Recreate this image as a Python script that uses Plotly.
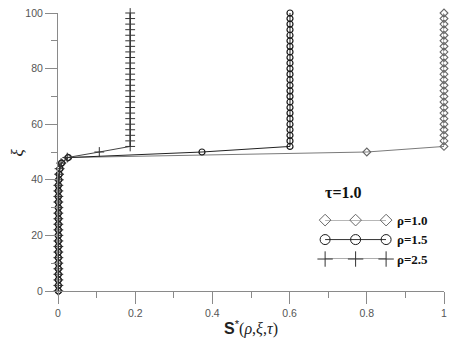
import plotly.graph_objects as go

# ---- data ----
xi = [0, 2, 4, 6, 8, 10, 12, 14, 16, 18, 20, 22, 24, 26, 28, 30, 32, 34, 36, 38,
      40, 42, 44, 46, 48, 50, 52, 54, 56, 58, 60, 62, 64, 66, 68, 70, 72, 74, 76,
      78, 80, 82, 84, 86, 88, 90, 92, 94, 96, 98, 100]

s_rho10 = [0.001, 0.001, 0.001, 0.001, 0.001, 0.001, 0.001, 0.001, 0.001, 0.001,
           0.001, 0.001, 0.001, 0.001, 0.001, 0.001, 0.001, 0.001, 0.001, 0.001,
           0.002, 0.003, 0.005, 0.010, 0.025, 0.800,
           1.0, 1.0, 1.0, 1.0, 1.0, 1.0, 1.0, 1.0, 1.0, 1.0, 1.0, 1.0, 1.0,
           1.0, 1.0, 1.0, 1.0, 1.0, 1.0, 1.0, 1.0, 1.0, 1.0, 1.0, 1.0]

s_rho15 = [0.001, 0.001, 0.001, 0.001, 0.001, 0.001, 0.001, 0.001, 0.001, 0.001,
           0.001, 0.001, 0.001, 0.001, 0.001, 0.001, 0.001, 0.001, 0.001, 0.001,
           0.002, 0.003, 0.005, 0.009, 0.027, 0.373,
           0.601, 0.601, 0.601, 0.601, 0.601, 0.601, 0.601, 0.601, 0.601, 0.601,
           0.601, 0.601, 0.601, 0.601, 0.601, 0.601, 0.601, 0.601, 0.601, 0.601,
           0.601, 0.601, 0.601, 0.601, 0.601]

s_rho25 = [0.001, 0.001, 0.001, 0.001, 0.001, 0.001, 0.001, 0.001, 0.001, 0.001,
           0.001, 0.001, 0.001, 0.001, 0.001, 0.001, 0.001, 0.001, 0.001, 0.001,
           0.002, 0.003, 0.004, 0.008, 0.024, 0.107,
           0.187, 0.187, 0.187, 0.187, 0.187, 0.187, 0.187, 0.187, 0.187, 0.187,
           0.187, 0.187, 0.187, 0.187, 0.187, 0.187, 0.187, 0.187, 0.187, 0.187,
           0.187, 0.187, 0.187, 0.187, 0.187]

legend_labels = ["ρ=1.0", "ρ=1.5", "ρ=2.5"]
tau_label = "τ=1.0"
x_ticks = [0, 0.2, 0.4, 0.6, 0.8, 1]
x_ticklabels = ["0", "0.2", "0.4", "0.6", "0.8", "1"]
y_ticks = [0, 20, 40, 60, 80, 100]

# ---- styles ----
styles = [
    dict(line=dict(color="#7a7a7a", width=1),
         marker=dict(symbol="diamond-open", size=6, color="#666666",
                     line=dict(width=1.1, color="#666666"))),
    dict(line=dict(color="#222222", width=1),
         marker=dict(symbol="circle-open", size=6, color="#1a1a1a",
                     line=dict(width=1.2, color="#1a1a1a"))),
    dict(line=dict(color="#444444", width=1),
         marker=dict(symbol="cross-thin-open", size=7, color="#333333",
                     line=dict(width=1, color="#333333"))),
]
legend_marker_sizes = [9, 10, 11]
legend_line_colors = ["#8a8a8a", "#333333", "#555555"]

fig = go.Figure()
for s, st in zip([s_rho10, s_rho15, s_rho25], styles):
    fig.add_trace(go.Scatter(x=s, y=xi, mode="lines+markers",
                             line=st["line"], marker=st["marker"],
                             showlegend=False, cliponaxis=False))

# legend samples drawn on an overlay axis
legend_x = [0, 1, 2]
for i, st in enumerate(styles):
    m = dict(st["marker"])
    m["size"] = legend_marker_sizes[i]
    m["line"] = dict(width=1, color=legend_line_colors[i] if i != 1 else "#1a1a1a")
    fig.add_trace(go.Scatter(x=legend_x, y=[2 - i] * 3, mode="lines+markers",
                             line=dict(color=legend_line_colors[i], width=1),
                             marker=m, showlegend=False,
                             xaxis="x2", yaxis="y2", cliponaxis=False))
    fig.add_annotation(x=2, y=2 - i, xref="x2", yref="y2",
                       text="<b>" + legend_labels[i] + "</b>",
                       showarrow=False, xanchor="left", xshift=9,
                       font=dict(family="Liberation Serif", size=13, color="#111"))

fig.add_annotation(x=0.793, y=0.356, xref="paper", yref="paper",
                   text="<b>" + tau_label + "</b>", showarrow=False,
                   font=dict(family="Liberation Serif", size=16, color="#111"))

# y-axis title
fig.add_annotation(x=-0.135, y=0.5, xref="paper", yref="paper",
                   text="<i>ξ</i>", showarrow=False, textangle=-90,
                   font=dict(family="Liberation Serif", size=17, color="#222"))

axis_common = dict(showline=True, linecolor="#8a8a8a", linewidth=1,
                   showgrid=False, zeroline=False, ticks="outside",
                   tickcolor="#8a8a8a", tickwidth=1, ticklen=12,
                   automargin=False,
                   tickfont=dict(family="Liberation Sans", size=10.5, color="#555"))

x_title = ("<b>S</b><sup>*</sup><span style=\"font-family:'Liberation Serif'\">"
           "(<i>ρ</i>,<i>ξ</i>,<i>τ</i>)</span>")

fig.update_layout(
    width=449, height=348,
    margin=dict(l=58, r=5, t=13, b=57),
    paper_bgcolor="white", plot_bgcolor="white",
    xaxis=dict(range=[0, 1], tickvals=x_ticks, ticktext=x_ticklabels,
               minor=dict(dtick=0.1, ticklen=6, tickcolor="#8a8a8a", ticks="outside"),
               title=dict(text=x_title,
                          font=dict(family="Liberation Sans", size=16, color="#222"),
                          standoff=5),
               **axis_common),
    yaxis=dict(range=[0, 100], tickvals=y_ticks,
               minor=dict(dtick=10, ticklen=6, tickcolor="#8a8a8a", ticks="outside"),
               **axis_common),
    xaxis2=dict(domain=[0.692, 0.850], range=[0, 2], visible=False, anchor="y2",
                showticklabels=False),
    yaxis2=dict(domain=[0.115, 0.255], range=[0, 2], visible=False, anchor="x2",
                showticklabels=False),
    showlegend=False,
)

fig.write_html("out.html")
